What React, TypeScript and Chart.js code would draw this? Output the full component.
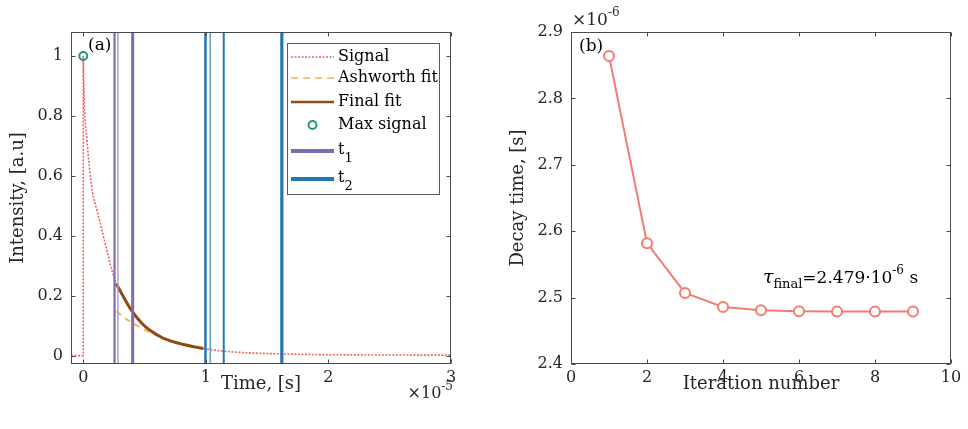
import React, { useEffect, useRef } from "react";
import { Chart, registerables } from "chart.js";

Chart.register(...registerables);

// ---------------- Panel (a) data ----------------
const signalTime = [
  -1e-6, -0.5e-6, 0, 0, 0.08e-6, 0.3e-6, 0.5e-6, 0.73e-6, 1.12e-6, 1.53e-6, 1.93e-6,
  2.34e-6, 2.69e-6, 3.3e-6, 3.84e-6, 4.79e-6, 5.47e-6, 6.53e-6, 7.5e-6, 8.5e-6, 9.8e-6,
  10.9e-6, 12e-6, 13.6e-6, 15e-6, 17.7e-6, 20e-6, 25e-6, 30e-6,
];
const signalIntensity = [
  0, 0, 0, 1, 0.85, 0.72, 0.63, 0.55, 0.485, 0.418, 0.351,
  0.284, 0.24, 0.195, 0.157, 0.107, 0.084, 0.058, 0.046, 0.034, 0.024,
  0.017, 0.013, 0.009, 0.007, 0.0045, 0.003, 0.002, 0.0015,
];
const ashworthTime = [2.7e-6, 3.44e-6, 4.4e-6, 5.1e-6, 6.5e-6, 8.0e-6, 9.8e-6];
const ashworthIntensity = [0.148, 0.124, 0.1, 0.084, 0.06, 0.041, 0.027];
const finalFitTime = [2.69e-6, 3.3e-6, 3.84e-6, 4.79e-6, 5.47e-6, 6.53e-6, 7.1e-6, 8.16e-6, 9.8e-6];
const finalFitIntensity = [0.24, 0.195, 0.157, 0.107, 0.084, 0.058, 0.049, 0.037, 0.023];
const maxSignalTime = [0];
const maxSignalIntensity = [1];
const t1Times = [2.55e-6, 2.83e-6, 4.03e-6];
const t2Times = [9.97e-6, 1.036e-5, 1.146e-5, 1.62e-5];
const aXTicks = [0, 1e-5, 2e-5, 3e-5];
const aXTickLabels = ["0", "1", "2", "3"];
const aYTicks = [0, 0.2, 0.4, 0.6, 0.8, 1];
const aYTickLabels = ["0", "0.2", "0.4", "0.6", "0.8", "1"];
const A_X_MIN = -1e-6;
const A_X_MAX = 3e-5;
const A_Y_MIN = -0.028;
const A_Y_MAX = 1.08;

// ---------------- Panel (b) data ----------------
const iterations = [1, 2, 3, 4, 5, 6, 7, 8, 9];
const decayTimes = [2.864e-6, 2.582e-6, 2.507e-6, 2.486e-6, 2.481e-6, 2.4795e-6, 2.479e-6, 2.479e-6, 2.479e-6];
const bXTicks = [0, 2, 4, 6, 8, 10];
const bXTickLabels = ["0", "2", "4", "6", "8", "10"];
const bYTicks = [2.4e-6, 2.5e-6, 2.6e-6, 2.7e-6, 2.8e-6, 2.9e-6];
const bYTickLabels = ["2.4", "2.5", "2.6", "2.7", "2.8", "2.9"];
const tauFinalValue = "2.479";

// ---------------- styling ----------------
const FONT = '"DejaVu Serif", serif';
const TEXT = "#262626";
const AXIS = "#4a4a4a";
const SIGNAL_COLOR = "#ee6460";
const ASH_COLOR = "#f7b04e";
const FIT_COLOR = "#8b4a16";
const MAX_COLOR = "#1a9a6e";
const T1_COLOR = "#7d6bb0";
const T1_LIGHT = "#aa9fd2";
const T2_COLOR = "#1f77b4";
const T2_LIGHT = "#62a3d2";
const B_COLOR = "#f27c72";

const pts = (xs: number[], ys: number[]) => xs.map((x, i) => ({ x, y: ys[i] }));

type Run = { t: string; size: number; dy?: number; italic?: boolean };
function drawRuns(ctx: CanvasRenderingContext2D, x: number, y: number, runs: Run[], align: "left" | "right" = "left") {
  const fontOf = (r: Run) => `${r.italic ? "italic " : ""}${r.size}px ${FONT}`;
  let total = 0;
  for (const r of runs) {
    ctx.font = fontOf(r);
    total += ctx.measureText(r.t).width;
  }
  let cx = align === "right" ? x - total : x;
  ctx.textAlign = "left";
  for (const r of runs) {
    ctx.font = fontOf(r);
    ctx.fillText(r.t, cx, y + (r.dy || 0));
    cx += ctx.measureText(r.t).width;
  }
}

const boxPlugin = {
  id: "matlabBox",
  afterDatasetsDraw(chart: any) {
    const { ctx, chartArea: a, scales } = chart;
    ctx.save();
    ctx.strokeStyle = AXIS;
    ctx.lineWidth = 1;
    const L = Math.round(a.left) + 0.5;
    const R = Math.round(a.right) - 0.5;
    const T = Math.round(a.top) + 0.5;
    const B = Math.round(a.bottom) - 0.5;
    ctx.strokeRect(L, T, R - L, B - T);
    const len = 4;
    ctx.beginPath();
    for (const tk of scales.x.ticks) {
      const px = Math.round(scales.x.getPixelForValue(tk.value)) + 0.5;
      ctx.moveTo(px, B);
      ctx.lineTo(px, B - len);
      ctx.moveTo(px, T);
      ctx.lineTo(px, T + len);
    }
    for (const tk of scales.y.ticks) {
      const py = Math.round(scales.y.getPixelForValue(tk.value)) + 0.5;
      ctx.moveTo(L, py);
      ctx.lineTo(L + len, py);
      ctx.moveTo(R, py);
      ctx.lineTo(R - len, py);
    }
    ctx.stroke();
    ctx.restore();
  },
};

const legendEntries = [
  { kind: "dotted", color: SIGNAL_COLOR, label: "Signal", sub: "" },
  { kind: "dashed", color: ASH_COLOR, label: "Ashworth fit", sub: "" },
  { kind: "solid", color: FIT_COLOR, label: "Final fit", sub: "" },
  { kind: "marker", color: MAX_COLOR, label: "Max signal", sub: "" },
  { kind: "thick", color: T1_COLOR, label: "t", sub: "1" },
  { kind: "thick", color: T2_COLOR, label: "t", sub: "2" },
];

const panelAText = {
  id: "panelAText",
  afterDatasetsDraw(chart: any) {
    const { ctx, chartArea: a } = chart;
    ctx.save();
    ctx.fillStyle = "#000";
    ctx.textBaseline = "middle";
    ctx.font = `17px ${FONT}`;
    ctx.textAlign = "left";
    ctx.fillText("(a)", a.left + 17, a.top + 14);

    // legend
    const bx = a.left + 216.5;
    const by = a.top + 11.5;
    const bw = 152;
    const bh = 151;
    ctx.fillStyle = "#fff";
    ctx.fillRect(bx, by, bw, bh);
    ctx.strokeStyle = "#5a5a5a";
    ctx.lineWidth = 1;
    ctx.strokeRect(bx, by, bw, bh);
    const rowY = [25, 46, 70, 93, 119, 147];
    const x0 = a.left + 220;
    const x1 = a.left + 263;
    legendEntries.forEach((e, i) => {
      const y = a.top + rowY[i];
      ctx.save();
      ctx.strokeStyle = e.color;
      if (e.kind === "marker") {
        ctx.lineWidth = 2;
        ctx.beginPath();
        ctx.arc((x0 + x1) / 2, y, 4, 0, Math.PI * 2);
        ctx.stroke();
      } else {
        ctx.lineWidth = e.kind === "thick" ? 4 : e.kind === "solid" ? 2.5 : 1.6;
        if (e.kind === "dotted") ctx.setLineDash([2, 1.5]);
        if (e.kind === "dashed") ctx.setLineDash([7, 5]);
        ctx.beginPath();
        ctx.moveTo(x0, y);
        ctx.lineTo(x1, y);
        ctx.stroke();
      }
      ctx.restore();
      ctx.fillStyle = "#000";
      ctx.textBaseline = "middle";
      if (e.sub) {
        drawRuns(ctx, x1 + 4, y - 1, [
          { t: e.label, size: 16 },
          { t: e.sub, size: 13, dy: 9 },
        ]);
      } else {
        ctx.font = `16px ${FONT}`;
        ctx.textAlign = "left";
        ctx.fillText(e.label, x1 + 4, y);
      }
    });

    // exponent label
    ctx.fillStyle = TEXT;
    ctx.textBaseline = "alphabetic";
    drawRuns(ctx, a.right + 2, a.bottom + 34, [
      { t: "×10", size: 16 },
      { t: "-5", size: 12, dy: -8 },
    ], "right");
    ctx.restore();
  },
};

const panelBText = {
  id: "panelBText",
  afterDatasetsDraw(chart: any) {
    const { ctx, chartArea: a, scales } = chart;
    ctx.save();
    ctx.fillStyle = "#000";
    ctx.textBaseline = "middle";
    ctx.textAlign = "left";
    ctx.font = `17px ${FONT}`;
    ctx.fillText("(b)", a.left + 8, a.top + 15);

    ctx.fillStyle = TEXT;
    ctx.textBaseline = "alphabetic";
    drawRuns(ctx, a.left + 1, a.top - 7, [
      { t: "×10", size: 17 },
      { t: "-6", size: 12, dy: -9 },
    ]);

    ctx.fillStyle = "#000";
    const ax = scales.x.getPixelForValue(5.05);
    const ay = scales.y.getPixelForValue(2.522e-6);
    drawRuns(ctx, ax, ay, [
      { t: "τ", size: 19, italic: true },
      { t: "final", size: 13, dy: 5 },
      { t: "=" + tauFinalValue + "·10", size: 17 },
      { t: "-6", size: 12, dy: -9 },
      { t: " s", size: 17 },
    ]);
    ctx.restore();
  },
};

function makeScale(opts: {
  min: number; max: number; ticks: number[]; labels: string[]; title: string; axis: "x" | "y"; size: number; titlePad: number;
}) {
  const base: any = {
    type: "linear",
    min: opts.min,
    max: opts.max,
    afterBuildTicks: (s: any) => {
      s.ticks = opts.ticks.map((v) => ({ value: v }));
    },
    ticks: {
      callback: (_v: any, i: number) => opts.labels[i],
      font: { family: FONT, size: 16, lineHeight: 1.2 },
      color: TEXT,
      padding: opts.axis === "x" ? 4 : 8,
      maxRotation: 0,
      autoSkip: false,
    },
    grid: { display: false, drawTicks: false },
    border: { display: false },
    title: {
      display: true,
      text: opts.title,
      color: TEXT,
      font: { family: FONT, size: 18, lineHeight: 1.2 },
      padding: opts.axis === "x" ? { top: 0, bottom: opts.titlePad } : { top: opts.titlePad, bottom: 0 },
    },
    afterFit: (s: any) => {
      if (opts.axis === "x") s.height = opts.size;
      else s.width = opts.size;
    },
  };
  return base;
}

function configA(): any {
  const k = signalIntensity.indexOf(1);
  const rise = pts(signalTime.slice(0, k + 1), signalIntensity.slice(0, k + 1));
  const decay = pts(signalTime.slice(k), signalIntensity.slice(k));
  const t1Styles = [
    { c: T1_COLOR, w: 2.2 },
    { c: T1_LIGHT, w: 1.5 },
    { c: T1_COLOR, w: 3 },
  ];
  const t2Styles = [
    { c: T2_COLOR, w: 2.5 },
    { c: T2_LIGHT, w: 1.6 },
    { c: T2_COLOR, w: 2 },
    { c: T2_COLOR, w: 3.2 },
  ];
  const vline = (t: number, c: string, w: number, label: string) => ({
    label,
    data: [{ x: t, y: A_Y_MIN }, { x: t, y: A_Y_MAX }],
    borderColor: c,
    borderWidth: w,
    pointRadius: 0,
    order: 1,
  });
  return {
    type: "line",
    data: {
      datasets: [
        {
          label: "Signal",
          data: rise,
          borderColor: SIGNAL_COLOR,
          borderWidth: 1.6,
          borderDash: [2, 1.5],
          pointRadius: 0,
          tension: 0,
          order: 5,
        },
        {
          label: "Signal decay",
          data: decay,
          borderColor: SIGNAL_COLOR,
          borderWidth: 1.6,
          borderDash: [2, 1.5],
          pointRadius: 0,
          cubicInterpolationMode: "monotone",
          order: 5,
        },
        {
          label: "Ashworth fit",
          data: pts(ashworthTime, ashworthIntensity),
          borderColor: ASH_COLOR,
          borderWidth: 2,
          borderDash: [6, 5],
          pointRadius: 0,
          cubicInterpolationMode: "monotone",
          order: 4,
        },
        {
          label: "Final fit",
          data: pts(finalFitTime, finalFitIntensity),
          borderColor: FIT_COLOR,
          borderWidth: 3,
          pointRadius: 0,
          cubicInterpolationMode: "monotone",
          order: 3,
        },
        ...t1Times.map((t, i) => vline(t, t1Styles[i].c, t1Styles[i].w, "t1")),
        ...t2Times.map((t, i) => vline(t, t2Styles[i].c, t2Styles[i].w, "t2")),
        {
          label: "Max signal",
          data: pts(maxSignalTime, maxSignalIntensity),
          showLine: false,
          pointRadius: 4,
          pointBorderWidth: 2,
          pointBorderColor: MAX_COLOR,
          pointBackgroundColor: "rgba(0,0,0,0)",
          order: 0,
        },
      ],
    },
    options: {
      animation: false,
      responsive: false,
      devicePixelRatio: 1,
      layout: { padding: { left: 0, top: 32, right: 33, bottom: 0 } },
      plugins: { legend: { display: false }, tooltip: { enabled: false } },
      scales: {
        x: makeScale({ min: A_X_MIN, max: A_X_MAX, ticks: aXTicks, labels: aXTickLabels, title: "Time, [s]", axis: "x", size: 65, titlePad: 34 }),
        y: makeScale({ min: A_Y_MIN, max: A_Y_MAX, ticks: aYTicks, labels: aYTickLabels, title: "Intensity, [a.u]", axis: "y", size: 71, titlePad: 8 }),
      },
    },
    plugins: [boxPlugin, panelAText],
  };
}

function configB(): any {
  return {
    type: "line",
    data: {
      datasets: [
        {
          label: "Decay time",
          data: pts(iterations, decayTimes),
          borderColor: B_COLOR,
          borderWidth: 2,
          pointRadius: 5,
          pointBorderWidth: 2,
          pointBorderColor: B_COLOR,
          pointBackgroundColor: "#fff",
          tension: 0,
        },
      ],
    },
    options: {
      animation: false,
      responsive: false,
      devicePixelRatio: 1,
      layout: { padding: { left: 0, top: 32, right: 17, bottom: 0 } },
      plugins: { legend: { display: false }, tooltip: { enabled: false } },
      scales: {
        x: makeScale({ min: 0, max: 10, ticks: bXTicks, labels: bXTickLabels, title: "Iteration number", axis: "x", size: 65, titlePad: 34 }),
        y: makeScale({ min: 2.4e-6, max: 2.9e-6, ticks: bYTicks, labels: bYTickLabels, title: "Decay time, [s]", axis: "y", size: 87, titlePad: 24 }),
      },
    },
    plugins: [boxPlugin, panelBText],
  };
}

export default function App() {
  const aRef = useRef<HTMLCanvasElement>(null);
  const bRef = useRef<HTMLCanvasElement>(null);
  useEffect(() => {
    const a = new Chart(aRef.current as HTMLCanvasElement, configA());
    const b = new Chart(bRef.current as HTMLCanvasElement, configB());
    return () => {
      a.destroy();
      b.destroy();
    };
  }, []);
  return (
    <div style={{ position: "fixed", left: 0, top: 0, width: 968, height: 429, background: "#fff" }}>
      <canvas ref={aRef} width={484} height={429} style={{ position: "absolute", left: 0, top: 0, width: 484, height: 429 }} />
      <canvas ref={bRef} width={484} height={429} style={{ position: "absolute", left: 484, top: 0, width: 484, height: 429 }} />
    </div>
  );
}
